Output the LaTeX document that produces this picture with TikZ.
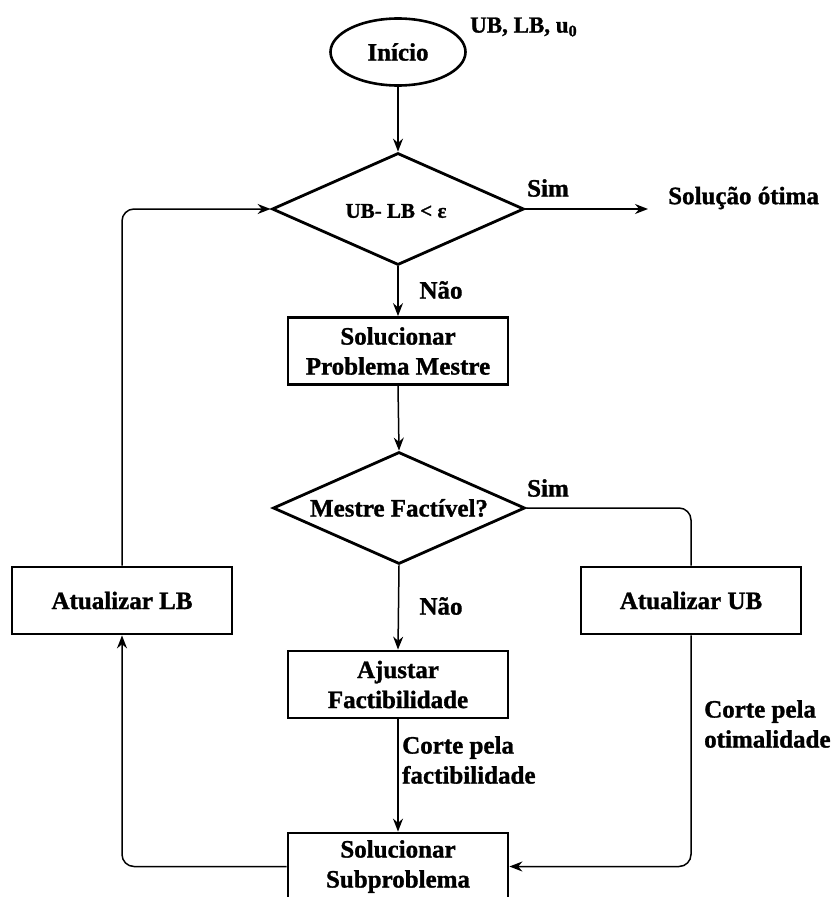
\documentclass[tikz,border=0pt]{standalone}
\usepackage{fontspec}
\setmainfont{Liberation Serif}[BoldFeatures={FakeBold=1.2}]
\usetikzlibrary{shapes.geometric,arrows.meta}
\begin{document}
\begin{tikzpicture}[x=1pt,y=-1pt,
  font=\fontsize{25}{30}\selectfont\bfseries,
  box/.style={draw, line width=2.8pt, minimum width=220pt, minimum height=67pt, align=center, inner sep=0pt},
  dec/.style={diamond, draw, line width=2.8pt, minimum width=252pt, minimum height=112pt, inner sep=0pt, aspect=2.25},
  arr/.style={-{Stealth[length=13pt,width=10pt]}, line width=1.5pt},
  conn/.style={line width=1.5pt, rounded corners=12pt},
  lbl/.style={inner sep=0pt, align=left}]
\useasboundingbox (0,0) rectangle (833,897);

\node[ellipse, draw, line width=2.6pt, minimum width=135pt, minimum height=67pt, inner sep=0pt] (start) at (398,52) {Início};
\node[lbl, anchor=west, font=\fontsize{23}{27}\selectfont\bfseries] (init) at (470,27) {UB, LB, u\textsubscript{0}};

\node[dec] (d1) at (398,209) {};
\node[font=\fontsize{21}{25}\selectfont\bfseries, inner sep=0pt] (d1t) at (396,211) {UB- LB < ε};
\node[lbl, anchor=west] (sol) at (668,198) {Solução ótima};
\node[lbl] (sim1) at (548,188) {Sim};
\node[lbl] (nao1) at (441,290) {Não};

\node[box] (mestre) at (398,351) {Solucionar\\Problema Mestre};

\node[dec] (d2) at (399,508) {Mestre Factível?};
\node[lbl] (sim2) at (548,488) {Sim};
\node[lbl] (nao2) at (441,606) {Não};

\node[box] (lb) at (122,600.5) {Atualizar LB};
\node[box] (ub) at (691,600.5) {Atualizar UB};
\node[box] (aj) at (398,684.5) {Ajustar\\Factibilidade};
\node[box] (sub) at (398,866.5) {Solucionar\\Subproblema};

\node[lbl, anchor=west] (cf) at (402,760) {Corte pela\\factibilidade};
\node[lbl, anchor=west] (co) at (704,724) {Corte pela\\otimalidade};

\draw[arr] (start.south) -- (d1.north);
\draw[arr] (d1.east) -- (d1.east -| {(648,0)});
\draw[arr] (d1.south) -- (mestre.north);
\draw[arr] (mestre.south) -- (d2.north);
\draw[arr] (d2.south) -- (aj.north);
\draw[arr] (aj.south) -- (sub.north);
\draw[conn] (d2.east) -| (ub.north);
\draw[conn, arr] (ub.south) |- (sub.east);
\draw[conn, arr] (sub.west) -| (lb.south);
\draw[conn, arr] (lb.north) |- (d1.west);
\end{tikzpicture}
\end{document}
